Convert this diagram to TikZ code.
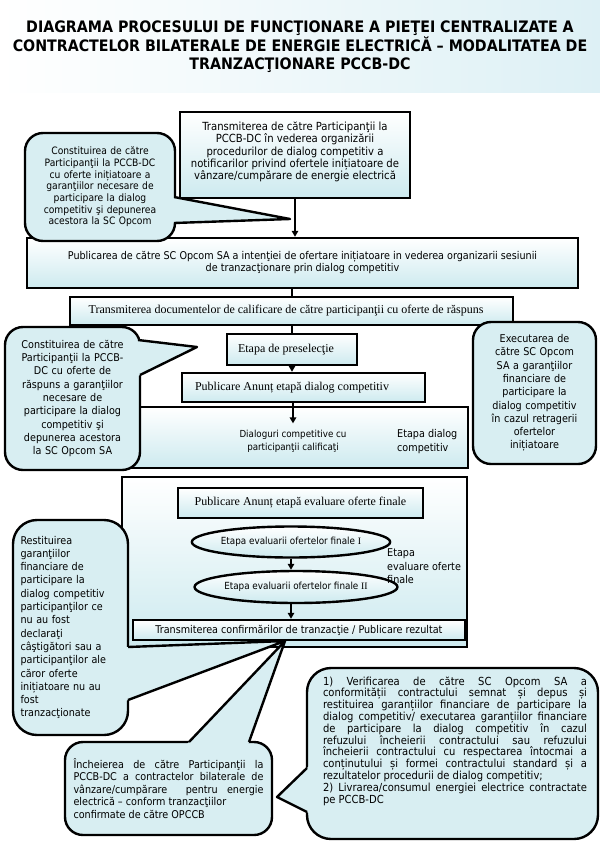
\documentclass[tikz,border=0pt]{standalone}
\usepackage{fontspec}
\setmainfont{Liberation Serif}
\setsansfont{DejaVu Sans Condensed}
\usetikzlibrary{positioning,calc,shapes.geometric,arrows.meta}
\hyphenpenalty=10000
\exhyphenpenalty=10000

\definecolor{band}{HTML}{DDF0F5}
\definecolor{boxbot}{HTML}{CDEAEF}
\definecolor{callfill}{HTML}{D8EEF2}

\tikzset{
  title/.style={align=center, font=\sffamily\bfseries\fontsize{15.8}{18.5}\selectfont},
  box/.style={draw, line width=2.4pt, top color=white, bottom color=boxbot, inner sep=0pt, align=center},
  romanbox/.style={box, font=\rmfamily\fontsize{12}{14}\selectfont},
  sansbox/.style={box, font=\sffamily\fontsize{10.7}{12}\selectfont},
  stage/.style={ellipse, draw, line width=2.4pt, top color=white, bottom color=boxbot, inner sep=0pt, font=\sffamily\fontsize{9.8}{12}\selectfont},
  bubble/.style={draw, line width=2.4pt, fill=callfill, rounded corners=18pt, inner sep=0pt, align=center, font=\sffamily\fontsize{10.7}{13.3}\selectfont},
  callline/.style={line width=2.4pt, line join=round},
  arr/.style={line width=1.8pt, -{Triangle[length=6pt,width=6.5pt]}},
  link/.style={line width=1.8pt},
  tag/.style={align=left, inner sep=0pt, font=\sffamily\fontsize{10.7}{13.4}\selectfont},
}
% pointer of a callout: tip, then the two ends of its base
\newcommand{\calltip}[3]{%
  \fill[callfill] (#1) -- ($(#1)!1.08!(#2)$) -- ($(#1)!1.08!(#3)$) -- cycle;
  \draw[callline] (#2) -- (#1) -- (#3);
}

\begin{document}
\begin{tikzpicture}[x=1pt, y=-1pt]
    \useasboundingbox (0,0) rectangle (600,844);
    \shade[left color=white, right color=band] (0,0) rectangle (600,92);
    \node[title] (title) at (300,47) {DIAGRAMA PROCESULUI DE FUNCŢIONARE A PIEŢEI CENTRALIZATE A\\CONTRACTELOR BILATERALE DE ENERGIE ELECTRICĂ – MODALITATEA DE\\TRANZACŢIONARE PCCB-DC};

    % notificari si publicarea intentiei
    \node[sansbox, minimum width=230, minimum height=86] (notif) at (295,155) {};
    \node[align=center, font=\sffamily\fontsize{11.2}{12.25}\selectfont] (notif text) at (295,152) {Transmiterea de către Participanţii la\\PCCB-DC în vederea organizării\\procedurilor de dialog competitiv a\\notificarilor privind ofertele inițiatoare de\\vânzare/cumpărare de energie electrică};
    \node[sansbox, minimum width=551, minimum height=50] (intent) at (302.5,263) {Publicarea de către SC Opcom SA a intenţiei de ofertare inițiatoare in vederea organizarii sesiunii\\de tranzacţionare prin dialog competitiv};
    \draw[arr] (notif.south) -- (notif.south |- intent.north);

    \node[bubble, minimum width=150, minimum height=108, text width=144, font=\sffamily\fontsize{10.2}{11.7}\selectfont] (guarA) at (100,187) {Constituirea de către\\Participanţii la PCCB-DC\\cu oferte inițiatoare a\\garanţiilor necesare de\\participare la dialog\\competitiv şi depunerea\\acestora la SC Opcom};
    \calltip{290,219}{174,197}{174,223}

    % preselectie si dialog competitiv
    \node[romanbox, minimum width=443, minimum height=28] (docs) at (291.5,311) {Transmiterea documentelor de calificare de către participanţii cu oferte de răspuns\hspace{11pt}};
    \node[romanbox, minimum width=130, minimum height=31] (presel) at (292,349.5) {Etapa de preselecţie\hspace{12pt}};
    \node[romanbox, minimum width=243, minimum height=29] (anndlg) at (303.5,387.5) {Publicare Anunț etapă dialog competitiv\hspace{23pt}};
    \node[box, minimum width=346, minimum height=61] (dlgstage) at (295,437.5) {};
    \node[align=center, inner sep=7pt, font=\sffamily\fontsize{9.7}{12.5}\selectfont] (dlg) at (293,441.5) {Dialoguri competitive cu\\participanţii calificaţi};
    \node[tag, anchor=west] (dlgtag) at (397,441.5) {Etapa dialog\\competitiv};
    \draw[link] (presel |- intent.south) -- (presel |- docs.north);
    \draw[link] (presel |- docs.south) -- (presel.north);
    \draw[arr] (presel.south) -- (presel.south |- anndlg.north);
    \draw[arr] (dlg.north |- anndlg.south) -- (dlg.north);

    \node[bubble, minimum width=135, minimum height=143, text width=129] (guarB) at (72.5,398.5) {Constituirea de către\\Participanţii la PCCB-\\DC cu oferte de\\răspuns a garanţiilor\\necesare de\\participare la dialog\\competitiv şi\\depunerea acestora\\la SC Opcom SA};
    \calltip{197,347}{138,340}{140,375}

    \node[bubble, minimum width=123, minimum height=142, text width=119] (exec) at (534.5,393) {Executarea de\\către SC Opcom\\SA a garanţiilor\\financiare de\\participare la\\dialog competitiv\\în cazul retragerii\\ofertelor\\inițiatoare};

    % evaluare oferte finale
    \node[box, minimum width=345, minimum height=170] (evalstage) at (294.5,562) {};
    \node[romanbox, minimum width=245, minimum height=30] (anneval) at (300.5,503) {Publicare Anunț etapă evaluare oferte finale};
    \node[stage, minimum width=184, minimum height=31] (evalA) at (291,542) {Etapa evaluarii ofertelor finale {\rmfamily I}};
    \node[stage, minimum width=179, minimum height=32] (evalB) at (296,587) {Etapa evaluarii ofertelor finale {\rmfamily II}};
    \node[tag, anchor=west, font=\sffamily\fontsize{10.7}{13.5}\selectfont] (evaltag) at (387,566.5) {Etapa\\evaluare oferte\\finale};
    \node[sansbox, minimum width=332, minimum height=20] (confirm) at (299,630) {Transmiterea confirmărilor de tranzacţie / Publicare rezultat};
    \draw[arr] (evalA.south) -- (evalA.south |- evalB.north);
    \draw[arr] (evalA.south |- evalB.south) -- (evalA.south |- confirm.north);

    % restituire, incheiere, verificare
    \node[bubble, align=left, minimum width=115, minimum height=215, text width=100, rounded corners=24pt] (refund) at (70.5,627.5) {Restituirea\\garanţiilor\\financiare de\\participare la\\dialog competitiv\\participanţilor ce\\nu au fost\\declaraţi\\câştigători sau a\\participanţilor ale\\căror oferte\\inițiatoare nu au\\fost\\tranzacţionate};
    \calltip{285,641}{128,647}{128,700}

    \node[bubble, align=justify, minimum width=207, minimum height=93, text width=190, font=\sffamily\fontsize{10.7}{12.5}\selectfont] (contract) at (168.5,788.5) {Încheierea de către Participanţii la\linebreak PCCB-DC a contractelor bilaterale de\linebreak vânzare/cumpărare\ \ pentru energie\linebreak electrică – conform tranzacţiilor\\confirmate de către OPCCB};
    \calltip{285,641}{189,742}{249,742}

    \node[bubble, minimum width=291, minimum height=171, rounded corners=24pt] (verif) at (452.5,753.5) {};
    \node[align=justify, text width=264, inner sep=0pt, font=\sffamily\fontsize{11.1}{11.8}\selectfont] (verif text) at (455,741) {1) Verificarea de către SC Opcom SA a\linebreak conformității contractului semnat și depus și\linebreak restituirea garanțiilor financiare de participare la\linebreak dialog competitiv/ executarea garanțiilor financiare\linebreak de participare la dialog competitiv în cazul\linebreak refuzului încheierii contractului sau refuzului\linebreak încheierii contractului cu respectarea întocmai a\linebreak conținutului și formei contractului standard și a\linebreak rezultatelor procedurii de dialog competitiv;\\2) Livrarea/consumul energiei electrice contractate\linebreak pe PCCB-DC};
    \calltip{277,797}{307,768}{307,812}
\end{tikzpicture}
\end{document}
